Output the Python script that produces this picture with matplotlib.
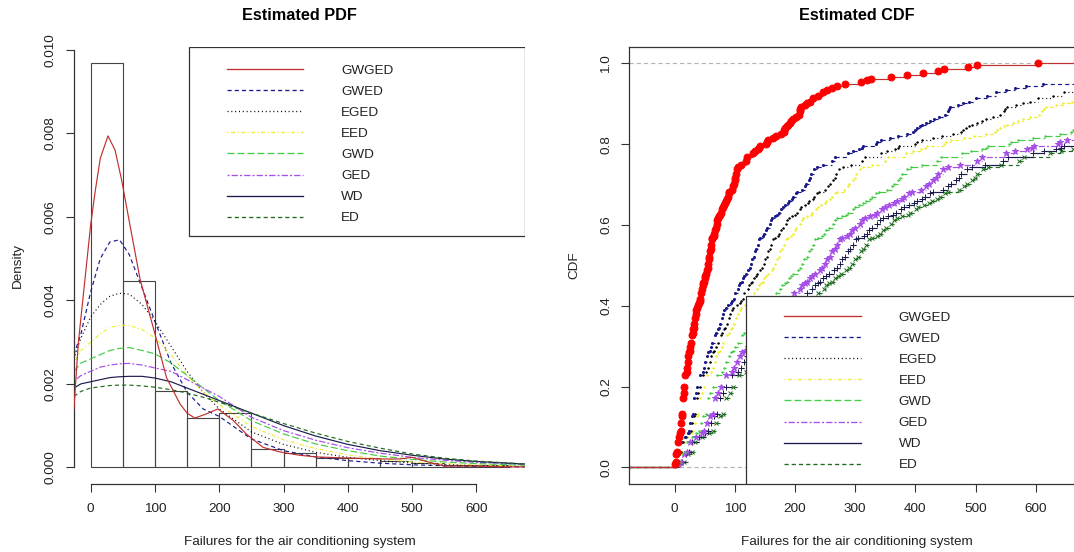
import numpy as np
import matplotlib.pyplot as plt
from matplotlib.patches import Rectangle
from matplotlib.lines import Line2D

plt.rcParams['font.family'] = ['Liberation Sans', 'DejaVu Sans']
plt.rcParams['lines.scale_dashes'] = False

# failure intervals of the air conditioning system (hours)
failures = [194, 15, 41, 29, 33, 181,
            413, 14, 58, 37, 100, 65, 9, 169, 447, 184, 36, 201, 118, 34, 31, 18, 18, 67, 57, 62, 7, 22, 34,
            90, 10, 60, 186, 61, 49, 14, 24, 56, 20, 79, 84, 44, 59, 29, 118, 25, 156, 310, 76, 26, 44, 23,
            62, 130, 208, 70, 101, 208,
            74, 57, 48, 29, 502, 12, 70, 21, 29, 386, 59, 27, 153, 26, 326,
            55, 320, 56, 104, 220, 239, 47, 246, 176, 182, 33, 15, 104, 35,
            23, 261, 87, 7, 120, 14, 62, 47, 225, 71, 246, 21, 42, 20, 5, 12, 120, 11, 3, 14, 71, 11, 14, 11,
            16, 90, 1, 16, 52, 95,
            97, 51, 11, 4, 141, 18, 142, 68, 77, 80, 1, 16, 106, 206, 82, 54, 31, 216, 46, 111, 39, 63, 18,
            191, 18, 163, 24,
            50, 44, 102, 72, 22, 39, 3, 15, 197, 188, 79, 88, 46, 5, 5, 36, 22, 139, 210, 97, 30, 23, 13, 14,
            359, 9, 12, 270, 603, 3, 104, 2, 438,
            50, 254, 5, 283, 35, 12,
            487, 18, 100, 7, 98, 5, 85, 91, 43, 230, 3, 130,
            102, 209, 14, 57, 54, 32, 67, 59, 134, 152, 27, 14, 230, 66, 61, 34]

# histogram (bin width 50)
bin_left = [0, 50, 100, 150, 200, 250, 300, 350, 400, 450, 500, 550, 600]
bin_density = [0.00968, 0.00446, 0.00182, 0.00118, 0.00129, 0.00044, 0.00034,
               0.00022, 0.00022, 0.00016, 0.00010, 0.00005, 0.00005]

models = ['GWGED', 'GWED', 'EGED', 'EED', 'GWD', 'GED', 'WD', 'ED']

# fitted densities
gwged_x = [-26, -19, 0, 7, 15, 27, 38, 48, 60, 77, 100, 118, 139, 150, 162, 180, 198, 222,
           242, 268, 294, 325, 351, 387, 450, 480, 500, 520, 550, 600, 650, 676]
gwged_pdf = [0.0014, 0.0030, 0.0058, 0.0066, 0.0074, 0.00794, 0.0076, 0.0069, 0.0059, 0.0045,
             0.0032, 0.00215, 0.00152, 0.0013, 0.00118, 0.00128, 0.0014, 0.00112,
             0.0008, 0.00048, 0.00037, 0.00029, 0.00025, 0.00023, 0.0002, 0.0002, 0.00024,
             0.00015, 0.00003, 0.00003, 0.00001, 0.00001]

pdf_x = [-26, -15, 0, 15, 30, 45, 60, 80, 100, 125, 150, 175, 200, 250, 300, 350, 400, 450,
         500, 550, 600, 676]
gwed_pdf = [0.0027, 0.0032, 0.0042, 0.0050, 0.0054, 0.00545, 0.0051, 0.0043, 0.0035, 0.0025,
            0.0018, 0.0014, 0.00122, 0.00068, 0.0004, 0.00025, 0.00016, 0.0001, 0.00006,
            0.00004, 0.00002, 0.00001]
eged_pdf = [0.0026, 0.0031, 0.0036, 0.0039, 0.0041, 0.00417, 0.00415, 0.0039, 0.0035, 0.0029,
            0.0023, 0.0018, 0.0014, 0.00085, 0.00055, 0.00036, 0.00024, 0.00016, 0.0001,
            0.00007, 0.00004, 0.00002]
eed_pdf = [0.0025, 0.0028, 0.0030, 0.0032, 0.00335, 0.0034, 0.0034, 0.0033, 0.0031, 0.0027,
           0.0022, 0.0018, 0.0015, 0.00098, 0.00066, 0.00045, 0.0003, 0.0002, 0.00013,
           0.00009, 0.00006, 0.00003]
gwd_pdf = [0.0023, 0.0025, 0.0026, 0.0027, 0.0028, 0.00285, 0.00287, 0.0028, 0.00272, 0.0025,
           0.0022, 0.0019, 0.0016, 0.00112, 0.0008, 0.00056, 0.0004, 0.00027, 0.00019,
           0.00013, 0.00009, 0.00005]
ged_pdf = [0.00206, 0.0022, 0.0023, 0.0024, 0.00245, 0.00248, 0.00249, 0.00245, 0.00238, 0.0023,
           0.0021, 0.0019, 0.0017, 0.0012, 0.00088, 0.00065, 0.00047, 0.00034, 0.00024,
           0.00017, 0.00012, 0.00007]
wd_pdf = [0.0019, 0.0020, 0.00205, 0.0021, 0.00215, 0.00217, 0.00218, 0.00218, 0.00214, 0.00205,
          0.0019, 0.00175, 0.0016, 0.0013, 0.001, 0.00075, 0.00055, 0.0004, 0.00029,
          0.0002, 0.00014, 0.00008]
ed_pdf = [0.0017, 0.00182, 0.0019, 0.00193, 0.00196, 0.00197, 0.00197, 0.00195, 0.00192, 0.00186,
          0.00178, 0.00168, 0.00156, 0.0013, 0.00105, 0.00082, 0.00062, 0.00046, 0.00032,
          0.00022, 0.00015, 0.00008]

# each model's estimated CDF is drawn at x' = a * x**b of the data
cdf_a = [1.0, 2.56, 2.67, 3.13, 4.36, 5.72, 6.67, 8.2]
cdf_b = [1.0, 0.970, 0.997, 0.988, 0.965, 0.938, 0.923, 0.89]

colors = ['#c0302e', '#1a1a8c', '#000000', '#eeee30', '#44cc44', '#a64ee8', '#1b1b4b', '#1e6b1e']
styles = ['-', (0, (3, 2.2)), (0, (0.75, 2.0)), (0, (0.8, 1.8, 2.8, 1.8)),
          (0, (5, 2.2)), (0, (1.5, 1.5, 4.5, 1.5)), '-', (0, (3, 2.2))]
cdf_marker = ['o', '.', '.', '.', '.', '*', '+', 'x']
cdf_msize = [5, 3, 2, 2, 2, 4.5, 4, 3]

W, H = 1074, 552
def px_rect(x0, y0, x1, y1):
    return [x0 / W, 1 - y1 / H, (x1 - x0) / W, (y1 - y0) / H]

fig = plt.figure(figsize=(W / 100, H / 100), dpi=100)
ax1 = fig.add_axes(px_rect(73.9, 47.1, 525.3, 483.5))
ax2 = fig.add_axes(px_rect(629.4, 47.1, 1083.4, 483.5))

fs = 9.7
lw = 0.85
axcol = '#333333'

def legend_handles():
    return [Line2D([], [], color=c, ls=s, lw=0.95) for c, s in zip(colors, styles)]

def add_legend(ax, box, anchor):
    ax.add_patch(Rectangle(box[:2], box[2], box[3], transform=ax.transAxes,
                           facecolor='white', edgecolor=axcol, linewidth=0.9, zorder=4))
    leg = ax.legend(legend_handles(), models, loc='upper left', bbox_to_anchor=anchor,
                    frameon=False, fontsize=fs, handlelength=5.7, handletextpad=2.8,
                    labelspacing=0.64, borderpad=0, borderaxespad=0)
    leg.set_zorder(5)
    for t in leg.get_texts():
        t.set_color('#222222')

# ---- Estimated PDF ----
ax1.bar(bin_left, bin_density, width=50, align='edge', fill=False, edgecolor='#444444',
        linewidth=0.8, zorder=1)
pdf_curves = [gwed_pdf, eged_pdf, eed_pdf, gwd_pdf, ged_pdf, wd_pdf, ed_pdf]
ax1.plot(gwged_x, gwged_pdf, color=colors[0], ls=styles[0], lw=lw, zorder=3)
for i, y in enumerate(pdf_curves, start=1):
    ax1.plot(pdf_x, y, color=colors[i], ls=styles[i], lw=lw, zorder=2)

ax1.set_xlim(-26, 676)
ax1.set_ylim(-0.000387, 0.010067)
ax1.set_xticks([0, 100, 200, 300, 400, 500, 600])
ax1.set_yticks([0, 0.002, 0.004, 0.006, 0.008, 0.010])
ax1.set_yticklabels(['0.000', '0.002', '0.004', '0.006', '0.008', '0.010'])
for s in ['top', 'right']:
    ax1.spines[s].set_visible(False)
ax1.spines['left'].set_bounds(0, 0.010)
ax1.spines['bottom'].set_bounds(0, 600)
ax1.set_title('Estimated PDF', fontsize=11.7, fontweight='bold', pad=19.3)
ax1.set_xlabel('Failures for the air conditioning system', fontsize=fs, color='#222222')
ax1.set_ylabel('Density', fontsize=fs, color='#222222')
ax1.xaxis.set_label_coords(0.5, -0.12)
ax1.yaxis.set_label_coords(-0.1117, 0.5)
add_legend(ax1, (0.255, 0.568, 0.745, 0.432), (0.3385, 0.960))

# ---- Estimated CDF ----
x_left, x_right = -75, 679
ax2.axhline(0, color='#b3b3b3', ls=(0, (3, 2.2)), lw=lw, zorder=1)
ax2.axhline(1, color='#b3b3b3', ls=(0, (3, 2.2)), lw=lw, zorder=1)
data = np.sort(np.asarray(failures, dtype=float))
for i in range(len(models) - 1, -1, -1):
    xs, counts = np.unique(cdf_a[i] * data ** cdf_b[i], return_counts=True)
    fcdf = np.cumsum(counts) / len(data)
    ends = np.r_[xs[1:], max(x_right, xs[-1])]
    ax2.hlines(fcdf, xs, ends, colors=colors[i], linestyles=[styles[i]], lw=lw, zorder=2)
    ax2.hlines(0, x_left, xs[0], colors=colors[i], linestyles=[styles[i]], lw=lw, zorder=2)
    mcol = 'red' if i == 0 else colors[i]
    ax2.plot(xs, fcdf, ls='none', marker=cdf_marker[i], ms=cdf_msize[i], color=mcol,
             mew=0.7, zorder=3)

ax2.set_xlim(x_left, x_right)
ax2.set_ylim(-0.04, 1.04)
ax2.set_xticks([0, 100, 200, 300, 400, 500, 600])
ax2.set_yticks([0, 0.2, 0.4, 0.6, 0.8, 1.0])
ax2.set_yticklabels(['0.0', '0.2', '0.4', '0.6', '0.8', '1.0'])
for s in ax2.spines.values():
    s.set_linewidth(0.9)
    s.set_color(axcol)
ax2.set_title('Estimated CDF', fontsize=11.7, fontweight='bold', pad=19.3)
ax2.set_xlabel('Failures for the air conditioning system', fontsize=fs, color='#222222')
ax2.set_ylabel('CDF', fontsize=fs, color='#222222')
ax2.xaxis.set_label_coords(0.5, -0.12)
ax2.yaxis.set_label_coords(-0.109, 0.5)
add_legend(ax2, (0.2568, 0.0, 0.7432, 0.4303), (0.3412, 0.394))

for ax in (ax1, ax2):
    ax.tick_params(length=5.8, width=0.8, color=axcol, labelsize=fs, labelcolor='#222222')
    ax.tick_params(axis='x', pad=8.2)
    ax.tick_params(axis='y', pad=6.6, labelrotation=90)
    for lbl in ax.get_yticklabels():
        lbl.set_va('center')
    ax.spines['left'].set_linewidth(0.9)
    ax.spines['bottom'].set_linewidth(0.9)
    ax.spines['left'].set_color(axcol)
    ax.spines['bottom'].set_color(axcol)

fig.savefig('out.png', dpi=100)
